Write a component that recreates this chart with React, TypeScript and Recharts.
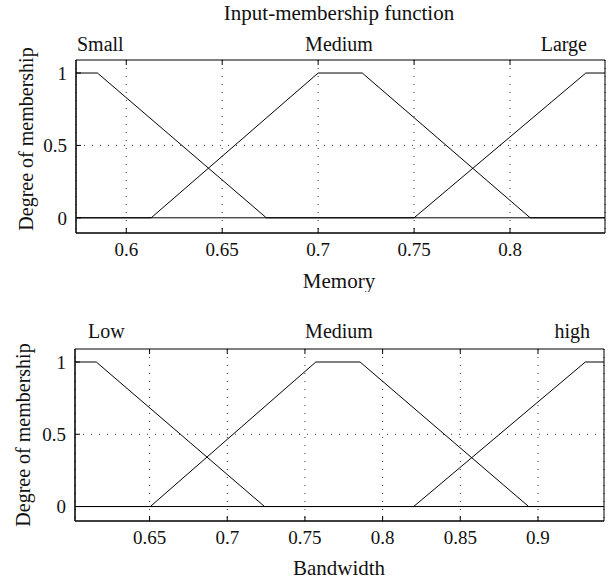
import React from 'react';
import { LineChart, Line, XAxis, YAxis, CartesianGrid, ReferenceLine, ReferenceArea } from 'recharts';

type Pt = { x: number; y: number };

const FONT = "'Liberation Serif', 'DejaVu Serif', serif";

// membership degree axis
const membershipTicks = [0, 0.5, 1];

// Memory (top panel)
const memoryDomain: [number, number] = [0.5738, 0.8495];
const memoryTicks = [0.6, 0.65, 0.7, 0.75, 0.8];
const memorySmall: Pt[] = [
  { x: 0.5738, y: 1 },
  { x: 0.585, y: 1 },
  { x: 0.673, y: 0 },
  { x: 0.8495, y: 0 },
];
const memoryMedium: Pt[] = [
  { x: 0.5738, y: 0 },
  { x: 0.613, y: 0 },
  { x: 0.7, y: 1 },
  { x: 0.723, y: 1 },
  { x: 0.8105, y: 0 },
  { x: 0.8495, y: 0 },
];
const memoryLarge: Pt[] = [
  { x: 0.5738, y: 0 },
  { x: 0.75, y: 0 },
  { x: 0.8395, y: 1 },
  { x: 0.8495, y: 1 },
];
const memoryTerms = ['Small', 'Medium', 'Large'];

// Bandwidth (bottom panel)
const bandwidthDomain: [number, number] = [0.602, 0.9425];
const bandwidthTicks = [0.65, 0.7, 0.75, 0.8, 0.85, 0.9];
const bandwidthLow: Pt[] = [
  { x: 0.602, y: 1 },
  { x: 0.6157, y: 1 },
  { x: 0.724, y: 0 },
  { x: 0.9425, y: 0 },
];
const bandwidthMedium: Pt[] = [
  { x: 0.602, y: 0 },
  { x: 0.6505, y: 0 },
  { x: 0.757, y: 1 },
  { x: 0.7855, y: 1 },
  { x: 0.894, y: 0 },
  { x: 0.9425, y: 0 },
];
const bandwidthHigh: Pt[] = [
  { x: 0.602, y: 0 },
  { x: 0.82, y: 0 },
  { x: 0.9305, y: 1 },
  { x: 0.9425, y: 1 },
];
const bandwidthTerms = ['Low', 'Medium', 'high'];

type PanelProps = {
  series: Pt[][];
  domain: [number, number];
  ticks: number[];
  yDomain: [number, number];
  terms: string[];
  termX: [number, number, number];
  termY: number;
  xLabel: string;
  xLabelY: number;
  yLabelX: number;
  yLabelY: number;
  margin: { top: number; right: number; bottom: number; left: number };
  title?: string;
};

function MembershipPanel(p: PanelProps) {
  const textStyle = { fontFamily: FONT, fill: '#111' };
  const [yMin, yMax] = p.yDomain;
  // inward tick length along the top edge (~5px)
  const tickLen = 0.035;
  return (
    <LineChart width={610} height={292} margin={p.margin}>
      <CartesianGrid horizontal={false} stroke="#333" strokeDasharray="1 7" />
      <ReferenceLine y={0.5} stroke="#333" strokeDasharray="1 7" />
      <XAxis
        type="number"
        dataKey="x"
        domain={p.domain}
        ticks={p.ticks}
        interval={0}
        allowDataOverflow
        height={30}
        axisLine={{ stroke: '#000' }}
        tickLine={{ stroke: '#000' }}
        tickSize={-5}
        tickMargin={15}
        tick={{ ...textStyle, fontSize: 19 }}
      />
      <YAxis
        type="number"
        domain={p.yDomain}
        ticks={membershipTicks}
        interval={0}
        allowDataOverflow
        width={60}
        axisLine={{ stroke: '#000' }}
        tickLine={{ stroke: '#000' }}
        tickSize={-5}
        tickMargin={14}
        tick={{ ...textStyle, fontSize: 19 }}
      />
      {/* plot frame */}
      <ReferenceArea
        x1={p.domain[0]}
        x2={p.domain[1]}
        y1={yMin}
        y2={yMax}
        fill="none"
        stroke="#000"
        strokeWidth={1}
        ifOverflow="visible"
      />
      {p.ticks.map((t) => (
        <ReferenceLine
          key={t}
          segment={[
            { x: t, y: yMax },
            { x: t, y: yMax - tickLen },
          ]}
          stroke="#000"
          ifOverflow="visible"
        />
      ))}
      {p.series.map((s, i) => (
        <Line
          key={i}
          data={s}
          dataKey="y"
          type="linear"
          stroke="#000"
          strokeWidth={1}
          dot={false}
          activeDot={false}
          isAnimationActive={false}
        />
      ))}
      {p.title && (
        <text x={339} y={20} textAnchor="middle" fontSize={21} style={textStyle}>
          {p.title}
        </text>
      )}
      <text x={p.termX[0]} y={p.termY} textAnchor="start" fontSize={20} style={textStyle}>
        {p.terms[0]}
      </text>
      <text x={p.termX[1]} y={p.termY} textAnchor="middle" fontSize={20} style={textStyle}>
        {p.terms[1]}
      </text>
      <text x={p.termX[2]} y={p.termY} textAnchor="end" fontSize={20} style={textStyle}>
        {p.terms[2]}
      </text>
      <text x={339} y={p.xLabelY} textAnchor="middle" fontSize={21} style={textStyle}>
        {p.xLabel}
      </text>
      <text
        x={p.yLabelX}
        y={p.yLabelY}
        textAnchor="middle"
        fontSize={20}
        transform={`rotate(-90, ${p.yLabelX}, ${p.yLabelY})`}
        style={textStyle}
      >
        Degree of membership
      </text>
    </LineChart>
  );
}

export default function App() {
  return (
    <div style={{ position: 'absolute', left: 0, top: 0, width: 610, height: 584, background: '#fff' }}>
      <MembershipPanel
        title="Input-membership function"
        series={[memorySmall, memoryMedium, memoryLarge]}
        domain={memoryDomain}
        ticks={memoryTicks}
        yDomain={[-0.105, 1.09]}
        terms={memoryTerms}
        termX={[77, 339, 587]}
        termY={51}
        xLabel="Memory"
        xLabelY={288}
        yLabelX={33}
        yLabelY={139}
        margin={{ top: 60, right: 5, bottom: 29, left: 16 }}
      />
      <MembershipPanel
        series={[bandwidthLow, bandwidthMedium, bandwidthHigh]}
        domain={bandwidthDomain}
        ticks={bandwidthTicks}
        yDomain={[-0.1, 1.09]}
        terms={bandwidthTerms}
        termX={[88, 339, 590]}
        termY={46}
        xLabel="Bandwidth"
        xLabelY={283}
        yLabelX={30}
        yLabelY={143}
        margin={{ top: 57, right: 6, bottom: 33, left: 15 }}
      />
    </div>
  );
}
